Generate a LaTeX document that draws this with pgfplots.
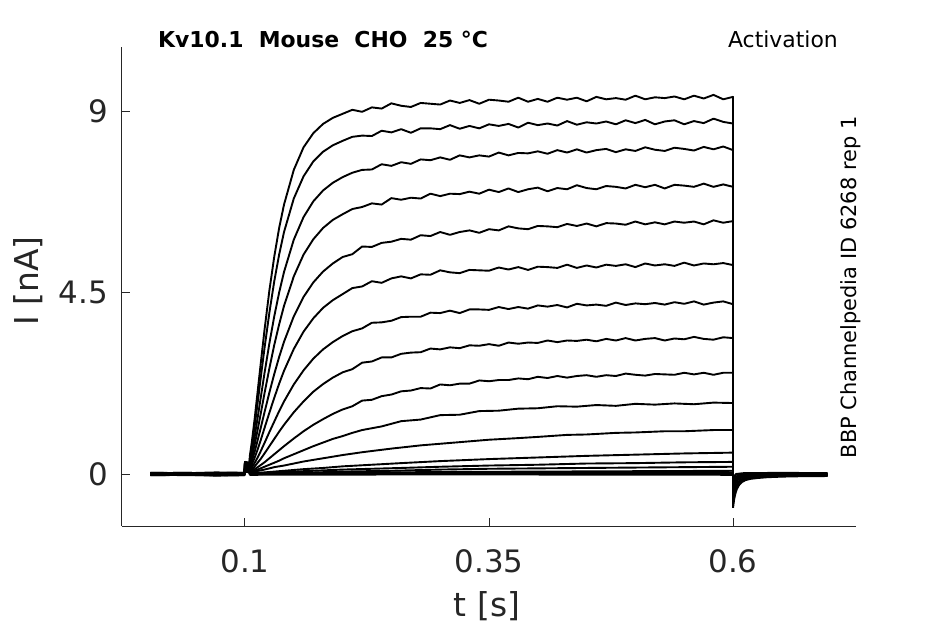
\documentclass[border=0pt]{standalone}
\usepackage{fontspec}
\setmainfont{DejaVu Sans}
\usepackage{pgfplots}
\pgfplotsset{compat=1.18}
\definecolor{axgray}{RGB}{38,38,38}
\newcommand\tickfont{\fontsize{31}{37}\selectfont}
\newcommand\labfont{\fontsize{33}{40}\selectfont}
\newcommand\annfont{\fontsize{22}{26}\selectfont}
\begin{document}
\begin{tikzpicture}
\useasboundingbox (-122bp,-98bp) rectangle (823bp,526bp);
\begin{axis}[
  at={(0,0)}, anchor=south west,
  scale only axis, width=734bp, height=479bp,
  xmin=-0.026, xmax=0.726, ymin=-1.289, ymax=10.587,
  axis x line*=bottom, axis y line*=left,
  xtick pos=bottom, ytick pos=left,
  axis line style={draw=axgray, line width=1bp, -},
  xtick={0.1,0.35,0.6}, xticklabels={0.1,0.35,0.6},
  ytick={0,4.5,9}, yticklabels={0,4.5,9},
  scaled ticks=false,
  tick align=inside, major tick length=8bp,
  tick style={draw=axgray, line width=1bp},
  xticklabel style={anchor=base, inner sep=0pt, yshift=-46bp, font=\tickfont, text=axgray},
  yticklabel style={anchor=east, inner sep=0pt, xshift=-14bp, font=\tickfont, text=axgray},
  cycle list={{black,solid,mark=none}},
  every axis plot/.append style={line width=1.9bp, line join=round},
]
% T1
\addplot coordinates {(0.003,0.02) (0.04,0.0) (0.07,0.02) (0.0995,0.01) (0.1,0.30) (0.1045,0.28) (0.105,0.45) (0.107,0.79) (0.11,1.39) (0.113,2.05) (0.116,2.71) (0.12,3.57) (0.125,4.55) (0.13,5.39) (0.135,6.10) (0.14,6.68) (0.15,7.54) (0.16,8.10) (0.17,8.45) (0.18,8.68) (0.19,8.83) (0.2,8.93) (0.21,9.03) (0.22,8.98) (0.23,9.09) (0.24,9.06) (0.25,9.19) (0.26,9.13) (0.27,9.10) (0.28,9.20) (0.29,9.18) (0.30,9.16) (0.31,9.26) (0.32,9.20) (0.33,9.27) (0.34,9.18) (0.35,9.28) (0.36,9.26) (0.37,9.23) (0.38,9.33) (0.39,9.23) (0.40,9.30) (0.41,9.23) (0.42,9.33) (0.43,9.28) (0.44,9.33) (0.45,9.24) (0.46,9.35) (0.47,9.29) (0.48,9.32) (0.49,9.28) (0.50,9.38) (0.51,9.29) (0.52,9.34) (0.53,9.32) (0.54,9.36) (0.55,9.29) (0.56,9.38) (0.57,9.31) (0.58,9.40) (0.59,9.29) (0.60,9.35) (0.6,-0.84)};
% T2
\addplot coordinates {(0.003,-0.01) (0.04,-0.02) (0.07,0.0) (0.0995,-0.01) (0.1,0.29) (0.1045,0.26) (0.105,0.38) (0.107,0.68) (0.11,1.20) (0.113,1.77) (0.116,2.36) (0.12,3.12) (0.125,4.00) (0.13,4.78) (0.135,5.44) (0.14,6.00) (0.15,6.83) (0.16,7.38) (0.17,7.75) (0.18,7.99) (0.19,8.15) (0.2,8.26) (0.21,8.36) (0.22,8.39) (0.23,8.38) (0.24,8.51) (0.25,8.47) (0.26,8.55) (0.27,8.46) (0.28,8.57) (0.29,8.57) (0.30,8.55) (0.31,8.65) (0.32,8.56) (0.33,8.63) (0.34,8.57) (0.35,8.67) (0.36,8.63) (0.37,8.68) (0.38,8.59) (0.39,8.71) (0.40,8.65) (0.41,8.69) (0.42,8.64) (0.43,8.75) (0.44,8.66) (0.45,8.72) (0.46,8.69) (0.47,8.74) (0.48,8.67) (0.49,8.77) (0.50,8.70) (0.51,8.78) (0.52,8.67) (0.53,8.74) (0.54,8.77) (0.55,8.67) (0.56,8.75) (0.57,8.70) (0.58,8.81) (0.59,8.73) (0.60,8.69) (0.6,-0.3)};
% T3
\addplot coordinates {(0.003,0.02) (0.04,0.03) (0.07,0.01) (0.0995,0.02) (0.1,0.27) (0.1045,0.24) (0.105,0.30) (0.107,0.53) (0.11,0.94) (0.113,1.40) (0.116,1.87) (0.12,2.50) (0.125,3.24) (0.13,3.91) (0.135,4.50) (0.14,5.01) (0.15,5.81) (0.16,6.37) (0.17,6.76) (0.18,7.03) (0.19,7.22) (0.2,7.36) (0.21,7.47) (0.22,7.54) (0.23,7.55) (0.24,7.68) (0.25,7.64) (0.26,7.73) (0.27,7.69) (0.28,7.80) (0.29,7.78) (0.30,7.85) (0.31,7.79) (0.32,7.90) (0.33,7.85) (0.34,7.90) (0.35,7.87) (0.36,7.97) (0.37,7.90) (0.38,7.96) (0.39,7.95) (0.40,8.00) (0.41,7.94) (0.42,8.03) (0.43,7.97) (0.44,8.05) (0.45,7.97) (0.46,8.03) (0.47,8.06) (0.48,7.98) (0.49,8.05) (0.50,8.01) (0.51,8.10) (0.52,8.04) (0.53,8.01) (0.54,8.09) (0.55,8.06) (0.56,8.02) (0.57,8.11) (0.58,8.05) (0.59,8.12) (0.60,8.03) (0.6,-0.3)};
% T4
\addplot coordinates {(0.003,-0.02) (0.04,-0.01) (0.07,-0.03) (0.0995,-0.02) (0.1,0.25) (0.1045,0.22) (0.105,0.23) (0.107,0.41) (0.11,0.74) (0.113,1.10) (0.116,1.48) (0.12,2.00) (0.125,2.62) (0.13,3.20) (0.135,3.71) (0.14,4.17) (0.15,4.90) (0.16,5.44) (0.17,5.82) (0.18,6.10) (0.19,6.30) (0.2,6.44) (0.21,6.57) (0.22,6.62) (0.23,6.71) (0.24,6.68) (0.25,6.84) (0.26,6.80) (0.27,6.85) (0.28,6.83) (0.29,6.95) (0.30,6.89) (0.31,6.95) (0.32,6.94) (0.33,7.00) (0.34,6.95) (0.35,7.05) (0.36,6.99) (0.37,7.08) (0.38,6.99) (0.39,7.06) (0.40,7.10) (0.41,7.01) (0.42,7.09) (0.43,7.06) (0.44,7.16) (0.45,7.09) (0.46,7.06) (0.47,7.14) (0.48,7.12) (0.49,7.08) (0.50,7.17) (0.51,7.11) (0.52,7.17) (0.53,7.08) (0.54,7.17) (0.55,7.15) (0.56,7.12) (0.57,7.20) (0.58,7.12) (0.59,7.18) (0.60,7.12) (0.6,-0.3)};
% T5
\addplot coordinates {(0.003,0.0) (0.04,0.01) (0.07,-0.01) (0.0995,0.0) (0.1,0.24) (0.1045,0.20) (0.105,0.18) (0.107,0.32) (0.11,0.56) (0.113,0.84) (0.116,1.13) (0.12,1.53) (0.125,2.02) (0.13,2.48) (0.135,2.90) (0.14,3.28) (0.15,3.91) (0.16,4.39) (0.17,4.75) (0.18,5.02) (0.19,5.22) (0.2,5.38) (0.21,5.45) (0.22,5.64) (0.23,5.63) (0.24,5.73) (0.25,5.76) (0.26,5.83) (0.27,5.81) (0.28,5.92) (0.29,5.90) (0.30,6.00) (0.31,5.93) (0.32,6.00) (0.33,6.04) (0.34,5.98) (0.35,6.07) (0.36,6.04) (0.37,6.14) (0.38,6.09) (0.39,6.07) (0.40,6.15) (0.41,6.14) (0.42,6.12) (0.43,6.20) (0.44,6.15) (0.45,6.21) (0.46,6.14) (0.47,6.22) (0.48,6.21) (0.49,6.18) (0.50,6.26) (0.51,6.19) (0.52,6.24) (0.53,6.19) (0.54,6.26) (0.55,6.23) (0.56,6.26) (0.57,6.19) (0.58,6.29) (0.59,6.23) (0.60,6.27) (0.6,-0.3)};
% T6
\addplot coordinates {(0.003,0.03) (0.04,0.02) (0.07,0.04) (0.0995,0.03) (0.1,0.22) (0.1045,0.18) (0.105,0.13) (0.107,0.23) (0.11,0.41) (0.113,0.61) (0.116,0.83) (0.12,1.14) (0.125,1.52) (0.13,1.89) (0.135,2.24) (0.14,2.56) (0.15,3.10) (0.16,3.53) (0.17,3.86) (0.18,4.12) (0.19,4.31) (0.2,4.46) (0.21,4.61) (0.22,4.65) (0.23,4.78) (0.24,4.74) (0.25,4.85) (0.26,4.90) (0.27,4.85) (0.28,4.95) (0.29,4.94) (0.30,5.05) (0.31,5.00) (0.32,4.98) (0.33,5.06) (0.34,5.05) (0.35,5.04) (0.36,5.12) (0.37,5.07) (0.38,5.13) (0.39,5.06) (0.40,5.14) (0.41,5.13) (0.42,5.11) (0.43,5.19) (0.44,5.11) (0.45,5.17) (0.46,5.12) (0.47,5.19) (0.48,5.16) (0.49,5.20) (0.50,5.13) (0.51,5.22) (0.52,5.17) (0.53,5.20) (0.54,5.16) (0.55,5.24) (0.56,5.17) (0.57,5.22) (0.58,5.20) (0.59,5.23) (0.60,5.18) (0.6,-0.3)};
% T7
\addplot coordinates {(0.003,-0.03) (0.04,-0.02) (0.07,-0.04) (0.0995,-0.03) (0.1,0.20) (0.1045,0.16) (0.105,0.09) (0.107,0.16) (0.11,0.28) (0.113,0.41) (0.116,0.56) (0.12,0.77) (0.125,1.04) (0.13,1.30) (0.135,1.56) (0.14,1.80) (0.15,2.22) (0.16,2.57) (0.17,2.86) (0.18,3.09) (0.19,3.27) (0.2,3.42) (0.21,3.54) (0.22,3.61) (0.23,3.75) (0.24,3.76) (0.25,3.80) (0.26,3.89) (0.27,3.90) (0.28,3.90) (0.29,4.00) (0.30,3.99) (0.31,4.05) (0.32,3.99) (0.33,4.08) (0.34,4.08) (0.35,4.07) (0.36,4.14) (0.37,4.09) (0.38,4.14) (0.39,4.10) (0.40,4.18) (0.41,4.15) (0.42,4.19) (0.43,4.13) (0.44,4.22) (0.45,4.18) (0.46,4.20) (0.47,4.17) (0.48,4.25) (0.49,4.19) (0.50,4.23) (0.51,4.21) (0.52,4.24) (0.53,4.20) (0.54,4.26) (0.55,4.22) (0.56,4.28) (0.57,4.20) (0.58,4.25) (0.59,4.28) (0.60,4.21) (0.6,-0.3)};
% T8
\addplot coordinates {(0.003,0.01) (0.04,0.02) (0.07,0.0) (0.0995,0.01) (0.1,0.18) (0.1045,0.14) (0.105,0.05) (0.107,0.11) (0.11,0.19) (0.113,0.28) (0.116,0.37) (0.12,0.51) (0.125,0.69) (0.13,0.87) (0.135,1.05) (0.14,1.22) (0.15,1.53) (0.16,1.80) (0.17,2.04) (0.18,2.23) (0.19,2.39) (0.2,2.52) (0.21,2.60) (0.22,2.76) (0.23,2.79) (0.24,2.89) (0.25,2.89) (0.26,2.98) (0.27,3.01) (0.28,3.02) (0.29,3.11) (0.30,3.09) (0.31,3.14) (0.32,3.12) (0.33,3.19) (0.34,3.18) (0.35,3.22) (0.36,3.18) (0.37,3.26) (0.38,3.23) (0.39,3.26) (0.40,3.25) (0.41,3.31) (0.42,3.27) (0.43,3.31) (0.44,3.30) (0.45,3.33) (0.46,3.29) (0.47,3.35) (0.48,3.31) (0.49,3.37) (0.50,3.31) (0.51,3.35) (0.52,3.37) (0.53,3.31) (0.54,3.36) (0.55,3.34) (0.56,3.40) (0.57,3.35) (0.58,3.33) (0.59,3.39) (0.60,3.37) (0.6,-0.3)};
% T9
\addplot coordinates {(0.003,-0.01) (0.04,0.0) (0.07,-0.02) (0.0995,-0.01) (0.1,0.16) (0.1045,0.12) (0.105,0.05) (0.107,0.07) (0.11,0.12) (0.113,0.17) (0.116,0.22) (0.12,0.29) (0.125,0.39) (0.13,0.49) (0.135,0.59) (0.14,0.69) (0.15,0.88) (0.16,1.06) (0.17,1.22) (0.18,1.36) (0.19,1.49) (0.2,1.60) (0.21,1.68) (0.22,1.82) (0.23,1.84) (0.24,1.93) (0.25,1.97) (0.26,2.05) (0.27,2.07) (0.28,2.13) (0.29,2.12) (0.30,2.22) (0.31,2.20) (0.32,2.24) (0.33,2.24) (0.34,2.32) (0.35,2.30) (0.36,2.33) (0.37,2.33) (0.38,2.37) (0.39,2.35) (0.40,2.41) (0.41,2.38) (0.42,2.43) (0.43,2.39) (0.44,2.43) (0.45,2.45) (0.46,2.41) (0.47,2.45) (0.48,2.43) (0.49,2.49) (0.50,2.46) (0.51,2.44) (0.52,2.48) (0.53,2.47) (0.54,2.46) (0.55,2.51) (0.56,2.47) (0.57,2.51) (0.58,2.46) (0.59,2.51) (0.60,2.51) (0.6,-0.3)};
% T10
\addplot coordinates {(0.003,0.02) (0.04,0.03) (0.07,0.01) (0.0995,0.02) (0.1,0.14) (0.1045,0.10) (0.105,0.04) (0.107,0.05) (0.11,0.08) (0.113,0.11) (0.116,0.14) (0.12,0.18) (0.125,0.23) (0.13,0.28) (0.135,0.33) (0.14,0.39) (0.15,0.49) (0.16,0.59) (0.17,0.69) (0.18,0.78) (0.19,0.87) (0.2,0.94) (0.21,1.02) (0.22,1.09) (0.24,1.18) (0.26,1.31) (0.28,1.35) (0.30,1.46) (0.32,1.47) (0.34,1.56) (0.36,1.57) (0.38,1.62) (0.40,1.63) (0.42,1.68) (0.44,1.67) (0.46,1.71) (0.48,1.69) (0.50,1.74) (0.52,1.72) (0.54,1.75) (0.56,1.73) (0.58,1.77) (0.60,1.76) (0.6,-0.3)};
% T11
\addplot coordinates {(0.003,-0.02) (0.04,-0.01) (0.07,-0.03) (0.0995,-0.02) (0.1,0.12) (0.1045,0.08) (0.105,0.03) (0.11,0.06) (0.12,0.11) (0.13,0.17) (0.14,0.21) (0.15,0.26) (0.16,0.31) (0.17,0.35) (0.18,0.39) (0.2,0.47) (0.22,0.54) (0.25,0.63) (0.28,0.71) (0.3,0.75) (0.33,0.81) (0.35,0.85) (0.38,0.89) (0.4,0.92) (0.43,0.97) (0.45,0.98) (0.48,1.02) (0.5,1.03) (0.53,1.06) (0.55,1.06) (0.58,1.09) (0.6,1.09) (0.6,-0.3)};
% T12
\addplot coordinates {(0.003,0.0) (0.05,0.01) (0.0995,0.0) (0.1,0.30) (0.1045,0.26) (0.105,0.02) (0.11,0.02) (0.12,0.04) (0.14,0.08) (0.16,0.12) (0.18,0.15) (0.2,0.19) (0.23,0.23) (0.26,0.27) (0.3,0.32) (0.35,0.37) (0.4,0.41) (0.45,0.45) (0.5,0.48) (0.55,0.51) (0.6,0.53) (0.6,-0.3)};
% T13
\addplot coordinates {(0.003,0.03) (0.05,0.02) (0.0995,0.03) (0.1,0.26) (0.1045,0.22) (0.105,0.02) (0.12,0.03) (0.14,0.05) (0.16,0.07) (0.18,0.09) (0.2,0.11) (0.23,0.13) (0.26,0.15) (0.3,0.18) (0.35,0.21) (0.4,0.23) (0.45,0.26) (0.5,0.27) (0.55,0.29) (0.6,0.30) (0.6,-0.3)};
% T14
\addplot coordinates {(0.003,-0.03) (0.05,-0.02) (0.0995,-0.03) (0.1,0.21) (0.1045,0.17) (0.105,-0.01) (0.12,0.0) (0.14,0.02) (0.16,0.03) (0.2,0.06) (0.25,0.08) (0.3,0.11) (0.35,0.13) (0.4,0.14) (0.45,0.15) (0.5,0.16) (0.55,0.17) (0.6,0.18) (0.6,-0.3)};
% T15
\addplot coordinates {(0.003,0.01) (0.05,0.02) (0.0995,0.01) (0.1,0.17) (0.1045,0.13) (0.105,0.01) (0.15,0.02) (0.2,0.03) (0.3,0.05) (0.4,0.06) (0.5,0.07) (0.6,0.08) (0.6,-0.3)};
% T16
\addplot coordinates {(0.003,-0.01) (0.05,0.0) (0.0995,-0.01) (0.1,0.13) (0.1045,0.09) (0.105,0.0) (0.2,0.02) (0.4,0.03) (0.6,0.04) (0.6,-0.3)};
% T17
\addplot coordinates {(0.003,0.02) (0.05,0.01) (0.0995,0.02) (0.1,0.10) (0.1045,0.07) (0.105,0.01) (0.3,0.02) (0.6,0.02) (0.6,-0.2)};
% T18
\addplot coordinates {(0.003,-0.02) (0.05,-0.03) (0.0995,-0.02) (0.1,0.08) (0.1045,0.05) (0.105,-0.02) (0.3,-0.01) (0.6,-0.02) (0.6,-0.2)};
% T19
\addplot coordinates {(0.003,0.0) (0.05,0.01) (0.0995,0.0) (0.1,0.06) (0.1045,0.04) (0.105,0.0) (0.3,0.0) (0.6,0.0) (0.6,-0.2)};
% tails
\addplot coordinates {(0.6,-0.84) (0.6012,-0.62) (0.6025,-0.48) (0.604,-0.37) (0.606,-0.28) (0.609,-0.20) (0.613,-0.15) (0.618,-0.12) (0.625,-0.10) (0.635,-0.08) (0.65,-0.065) (0.67,-0.055) (0.697,-0.05)};
\addplot coordinates {(0.6,-0.72) (0.6012,-0.52) (0.6025,-0.39) (0.604,-0.30) (0.606,-0.22) (0.609,-0.16) (0.613,-0.12) (0.62,-0.09) (0.635,-0.06) (0.66,-0.045) (0.697,-0.04)};
\addplot coordinates {(0.6,-0.6) (0.6015,-0.40) (0.603,-0.29) (0.605,-0.21) (0.608,-0.14) (0.612,-0.10) (0.62,-0.07) (0.635,-0.05) (0.66,-0.04) (0.697,-0.03)};
\addplot coordinates {(0.6,-0.5) (0.6015,-0.32) (0.603,-0.22) (0.605,-0.15) (0.608,-0.10) (0.613,-0.06) (0.625,-0.04) (0.66,-0.03) (0.697,-0.02)};
\addplot coordinates {(0.6,-0.4) (0.6015,-0.24) (0.603,-0.16) (0.606,-0.09) (0.61,-0.05) (0.62,-0.03) (0.65,-0.02) (0.697,-0.01)};
\addplot coordinates {(0.6,-0.3) (0.6015,-0.16) (0.604,-0.08) (0.608,-0.04) (0.62,-0.01) (0.66,0.0) (0.697,0.0)};
\addplot coordinates {(0.6,-0.2) (0.602,-0.08) (0.606,-0.02) (0.62,0.0) (0.66,0.01) (0.697,0.01)};
\addplot coordinates {(0.6,-0.1) (0.603,0.0) (0.61,0.02) (0.65,0.03) (0.697,0.02)};
\end{axis}
\node[anchor=base west, inner sep=0pt, font=\annfont\bfseries] at (36bp,478.7bp) {Kv10.1\ \ Mouse\ \ CHO\ \ 25 °C};
\node[anchor=base east, inner sep=0pt, font=\annfont] at (716bp,478.7bp) {Activation};
\node[anchor=base, rotate=90, inner sep=0pt, font=\fontsize{21}{25}\selectfont] at (734.5bp,238.5bp) {BBP Channelpedia ID 6268 rep 1};
\node[anchor=base, rotate=90, inner sep=0pt, font=\labfont, text=axgray] at (-83bp,245bp) {I [nA]};
\node[anchor=base, inner sep=0pt, font=\labfont, text=axgray] at (365bp,-90bp) {t [s]};
\end{tikzpicture}
\end{document}
